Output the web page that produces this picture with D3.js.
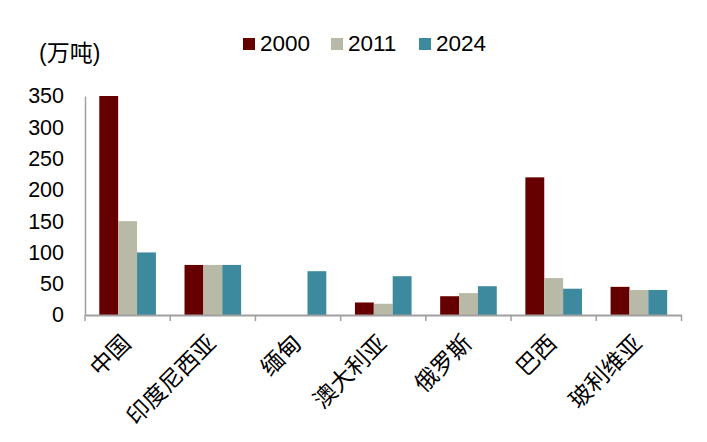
<!DOCTYPE html>
<html><head><meta charset="utf-8">
<script src="https://cdn.jsdelivr.net/npm/d3@7"></script>
<style>body{margin:0;background:#fff}svg{display:block}text{font-family:"Liberation Sans","Noto Sans CJK SC",Arial,sans-serif}</style>
</head><body><svg id="c" width="707" height="442"></svg>
<script>
const categories = ["中国","印度尼西亚","缅甸","澳大利亚","俄罗斯","巴西","玻利维亚"];
const seriesNames = ["2000","2011","2024"];
const v2000 = [350, 80, 0, 20, 30, 220, 45];
const v2011 = [150, 80, 0, 18, 35, 59, 40];
const v2024 = [100, 80, 70, 62, 46, 42, 40];
const yTicks = [0,50,100,150,200,250,300,350];
const unitLabel = "(万吨)";
const colors = ["#660000","#b9b9a7","#3d899d"];
const series = [v2000, v2011, v2024];

const svg = d3.select("#c");
const x0 = d3.scaleBand().domain(categories).range([85, 681.5]).paddingInner(0).paddingOuter(0);
const x1 = d3.scaleBand().domain(seriesNames).range([14.3, x0.bandwidth()-14.3]);
const y = d3.scaleLinear().domain([0,350]).range([315, 96]);

// bars
categories.forEach((c,i)=>{
  seriesNames.forEach((s,j)=>{
    const v = series[j][i];
    if (v<=0) return;
    svg.append("rect").attr("x", x0(c)+x1(s)).attr("width", x1.bandwidth())
      .attr("y", y(v)).attr("height", y(0)-y(v)).attr("fill", colors[j]);
  });
});

// y axis
const ya = svg.append("g").attr("transform","translate(85,0)")
  .call(d3.axisLeft(y).tickValues(yTicks).tickSize(0).tickPadding(21));
ya.select(".domain").attr("stroke","#a0a0a0").attr("stroke-width",1.5);
ya.selectAll("text").attr("font-size",21.5).attr("fill","#000").attr("font-family",'"Liberation Sans",Arial,sans-serif');

// x axis
const xa = svg.append("g").attr("transform","translate(0,315)")
  .call(d3.axisBottom(x0).tickSize(0).tickFormat(""));
xa.select(".domain").attr("stroke","#a0a0a0").attr("stroke-width",2);
const bounds = categories.map(c=>x0(c)).concat([x0.range()[1]]);
svg.append("g").selectAll("line").data(bounds).join("line")
  .attr("x1",d=>d).attr("x2",d=>d).attr("y1",315).attr("y2",321)
  .attr("stroke","#a0a0a0").attr("stroke-width",1.5);
svg.append("g").selectAll("text").data(categories).join("text")
  .attr("transform", d=>`translate(${x0(d)+x0.bandwidth()/2-1},${339}) rotate(-45)`)
  .attr("text-anchor","end").attr("dy","0.35em")
  .attr("font-size",23).attr("fill","#000").text(d=>d);

// unit
svg.append("text").attr("x",39).attr("y",61).attr("font-size",23).attr("fill","#000").text(unitLabel);

// legend
const legX = [243, 331, 419];
seriesNames.forEach((s,j)=>{
  svg.append("rect").attr("x",legX[j]).attr("y",38).attr("width",12).attr("height",12).attr("fill",colors[j]);
  svg.append("text").attr("x",legX[j]+17).attr("y",51).attr("font-size",22.5).attr("fill","#000")
    .attr("font-family",'"Liberation Sans",Arial,sans-serif').text(s);
});
</script></body></html>
